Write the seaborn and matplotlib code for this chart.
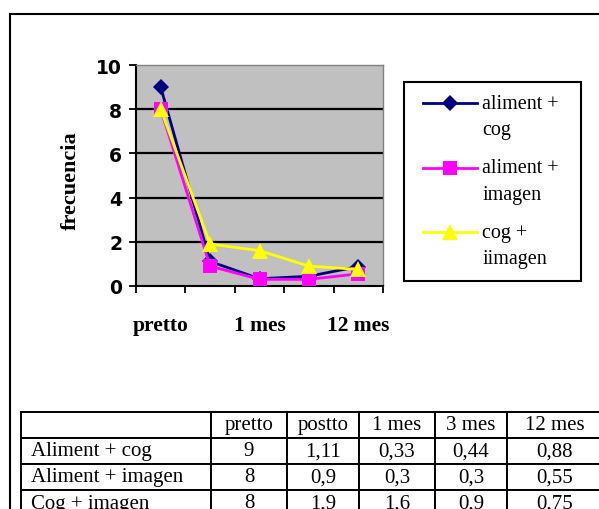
import matplotlib
matplotlib.use("Agg")
import matplotlib.pyplot as plt
from matplotlib.lines import Line2D
from matplotlib.patches import Rectangle
from matplotlib.legend_handler import HandlerLine2D
import seaborn as sns
import pandas as pd

# ---- data ----
categories = ['pretto', 'postto', '1 mes', '3 mes', '12 mes']
shown_xticklabels = ['pretto', '', '1 mes', '', '12 mes']
aliment_cog = [9, 1.11, 0.33, 0.44, 0.88]
aliment_imagen = [8, 0.9, 0.3, 0.3, 0.55]
cog_imagen = [8, 1.9, 1.6, 0.9, 0.75]
legend_labels = ['aliment +\ncog', 'aliment +\nimagen', 'cog +\niimagen']
table_row_labels = ['Aliment + cog', 'Aliment + imagen', 'Cog + imagen']
table_values = [['9', '1,11', '0,33', '0,44', '0,88'],
                ['8', '0,9', '0,3', '0,3', '0,55'],
                ['8', '1,9', '1,6', '0,9', '0,75']]
y_ticks = [0, 2, 4, 6, 8, 10]

colors = ['#000080', '#FF00FF', '#FFFF00']
markers = ['D', 's', '^']

series = [aliment_cog, aliment_imagen, cog_imagen]
rows = []
for name, vals in zip(legend_labels, series):
    for i, v in enumerate(vals):
        rows.append({'pos': i, 'value': v, 'series': name})
df = pd.DataFrame(rows)

W, H = 599, 510
fig = plt.figure(figsize=(W / 100, H / 100), dpi=100)
fig.patch.set_facecolor('white')

SERIF = 'Liberation Serif'

# plot area
L, R, T, B = 136, 383, 66, 287
ax = fig.add_axes([L / W, 1 - B / H, (R - L) / W, (B - T) / H])
ax.set_facecolor('#C0C0C0')

sns.lineplot(data=df, x='pos', y='value', hue='series', style='series',
             hue_order=legend_labels, style_order=legend_labels,
             palette=colors, markers=markers, dashes=False,
             linewidth=2, markersize=9, markeredgewidth=0,
             legend=False, ax=ax, zorder=3)
lines = ax.get_lines()
msizes = [8, 9.5, 11]
for ln, ms in zip(lines, msizes):
    ln.set_markersize(ms)
    ln.set_clip_on(False)

ax.set_xlim(-0.5, len(categories) - 0.5)
ax.set_ylim(0, 10)
for y in [2, 4, 6, 8]:
    ax.axhline(y, color='black', lw=1.6, zorder=1)

ax.set_yticks(y_ticks)
ax.set_yticklabels([str(t) for t in y_ticks], fontfamily='DejaVu Sans',
                   fontweight='bold', fontsize=13.5)
ax.tick_params(axis='y', direction='out', length=5, width=1.3, pad=5, color='black')

ax.set_xticks(range(len(categories)))
ax.set_xticklabels(shown_xticklabels, fontfamily=SERIF, fontweight='bold', fontsize=15.5)
ax.tick_params(axis='x', which='major', length=0, pad=21)
ax.set_xticks([i - 0.5 for i in range(len(categories) + 1)], minor=True)
ax.tick_params(axis='x', which='minor', direction='out', length=5, width=1.3, color='black')

ax.set_xlabel('')
ax.set_ylabel('frecuencia', fontfamily=SERIF, fontweight='bold', fontsize=16)
ax.yaxis.label.set_verticalalignment('center')
ax.yaxis.set_label_coords((71 - L) / (R - L), (B - 181) / (B - T))

for s in ['left', 'bottom']:
    ax.spines[s].set_color('black')
    ax.spines[s].set_linewidth(1.5)
for s in ['top', 'right']:
    ax.spines[s].set_color('#808080')
    ax.spines[s].set_linewidth(1.0)


class FirstLineHandler(HandlerLine2D):
    """Place the legend handle at the height of the first text line."""
    def __init__(self, shift=0.0, **kw):
        super().__init__(**kw)
        self._shift = shift

    def create_artists(self, legend, orig_handle, xdescent, ydescent, width,
                       height, fontsize, trans):
        return super().create_artists(legend, orig_handle, xdescent,
                                      ydescent - 2 * self._shift * fontsize,
                                      width, height, fontsize, trans)


# legend
leg = ax.legend(lines, legend_labels, loc='upper left',
                bbox_to_anchor=(423 / W, 1 - 95 / H), bbox_transform=fig.transFigure,
                frameon=False, borderpad=0, borderaxespad=0,
                handlelength=2.7, handletextpad=0.25, labelspacing=0.95,
                prop={'family': SERIF, 'size': 14.5},
                handler_map={Line2D: FirstLineHandler(shift=0.67)})
for t in leg.get_texts():
    t.set_linespacing(1.52)
fig.add_artist(Rectangle((404 / W, 1 - 282 / H), (581 - 404) / W, (282 - 83) / H,
                         transform=fig.transFigure, fill=False, edgecolor='black',
                         lw=1.5))

# outer chart frame
fig.add_artist(Line2D([10 / W, 1.01], [1 - 15 / H, 1 - 15 / H], transform=fig.transFigure,
                      color='black', lw=1.5))
fig.add_artist(Line2D([10 / W, 10 / W], [1 - 15 / H, -0.01], transform=fig.transFigure,
                      color='black', lw=1.5))

# data table
TL, TR, TT, TB = 21, 602, 413, 517
tax = fig.add_axes([TL / W, 1 - TB / H, (TR - TL) / W, (TB - TT) / H])
tax.axis('off')
cell_text = [[''] + categories] + [[lab] + vals for lab, vals in zip(table_row_labels, table_values)]
col_px = [190, 76, 72, 76, 72, TR - TL - 190 - 76 - 72 - 76 - 72]
tot = sum(col_px)
tbl = tax.table(cellText=cell_text, colWidths=[c / tot for c in col_px],
                cellLoc='center', bbox=[0, 0, 1, 1])
tbl.auto_set_font_size(False)
for (r, c), cell in tbl.get_celld().items():
    cell.set_linewidth(1.4)
    cell.set_edgecolor('black')
    cell.get_text().set_fontfamily(SERIF)
    cell.get_text().set_fontsize(15)
    if c == 0:
        cell.get_text().set_horizontalalignment('left')
        cell.PAD = 0.055

fig.savefig('out.png', dpi=100, facecolor='white')
